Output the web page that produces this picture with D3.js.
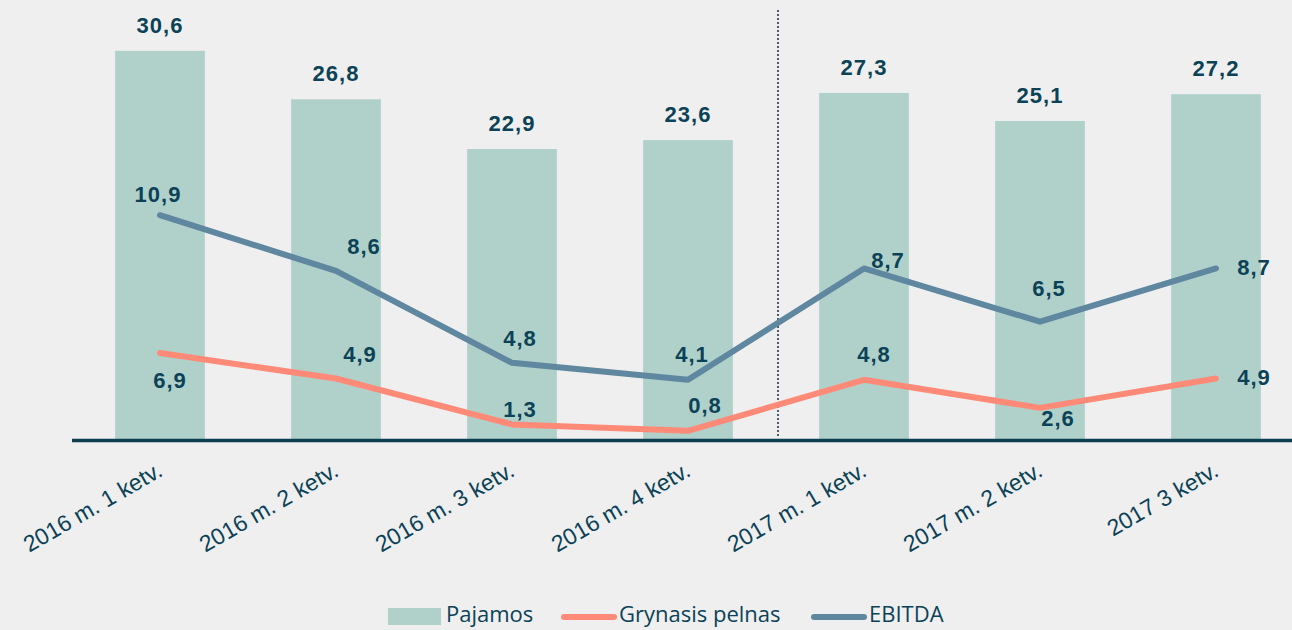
<!DOCTYPE html>
<html><head><meta charset="utf-8">
<script src="https://cdn.jsdelivr.net/npm/d3@7"></script>
<style>
html,body{margin:0;padding:0;background:#efefef;}
svg{display:block;}
</style></head>
<body>
<svg id="chart" width="1292" height="630"></svg>
<script>
const categories = ["2016 m. 1 ketv.","2016 m. 2 ketv.","2016 m. 3 ketv.","2016 m. 4 ketv.","2017 m. 1 ketv.","2017 m. 2 ketv.","2017 3 ketv."];
const pajamos = [30.6, 26.8, 22.9, 23.6, 27.3, 25.1, 27.2];
const grynasisPelnas = [6.9, 4.9, 1.3, 0.8, 4.8, 2.6, 4.9];
const ebitda = [10.9, 8.6, 4.8, 4.1, 8.7, 6.5, 8.7];
const seriesNames = ["Pajamos", "Grynasis pelnas", "EBITDA"];

// label placement (layout only)
const ebitdaLabelOffset = [[-2,-19],[28,-23],[8,-23],[4,-24],[24,-6],[9,-32],[38,1]];
const profitLabelOffset = [[10,29],[24,-22],[8,-13],[17,-24],[10,-24],[18,12],[38,1]];

const fmt = v => d3.format(".1f")(v).replace(".", ",");
const svg = d3.select("#chart");
const C = {bar:"#b0d1ca", profit:"#ff8a78", ebitda:"#5f87a0", text:"#0b4257", axis:"#0d3f52"};

const x = d3.scaleBand().domain(categories).range([72, 1304]).paddingInner(0.49).paddingOuter(0.245);
const y = d3.scaleLinear().domain([0, 35]).range([441, 441 - 12.75 * 35]);
const y2 = d3.scaleLinear().domain([0, 20]).range([479, 479 - 24.2 * 20]);
const cx = c => x(c) + x.bandwidth() / 2;

// bars
svg.append("g").selectAll("rect").data(pajamos).join("rect")
  .attr("x", (d,i) => x(categories[i]))
  .attr("y", d => y(d))
  .attr("width", x.bandwidth())
  .attr("height", d => y(0) - y(d))
  .attr("fill", C.bar);

// divider
const midX = (cx(categories[3]) + cx(categories[4])) / 2 + 2;
svg.append("line").attr("x1", midX).attr("x2", midX).attr("y1", 10).attr("y2", 437)
  .attr("stroke", "#4d5b6b").attr("stroke-width", 2).attr("stroke-dasharray", "2,2");

// axis
const xAxis = d3.axisBottom(x).tickSize(0).tickFormat("");
const ax = svg.append("g").attr("transform", "translate(0,440)").call(xAxis);
ax.select(".domain").remove();
svg.append("line").attr("x1", 72).attr("x2", 1292).attr("y1", 440.5).attr("y2", 440.5)
  .attr("stroke", C.axis).attr("stroke-width", 3.5);

// category labels
svg.append("g").selectAll("text").data(categories).join("text")
  .attr("transform", d => `translate(${cx(d) + 4},475) rotate(-30)`)
  .attr("text-anchor", "end")
  .attr("font-family", "Liberation Sans, Arial, sans-serif")
  .attr("font-size", 23)
  .attr("fill", C.text)
  .text(d => d);

// lines
const lineP = d3.line().x((d,i) => cx(categories[i])).y(d => y(d));
const lineE = d3.line().x((d,i) => cx(categories[i])).y(d => y2(d));
svg.append("path").datum(grynasisPelnas).attr("d", lineP).attr("fill", "none")
  .attr("stroke", C.profit).attr("stroke-width", 6).attr("stroke-linecap", "round").attr("stroke-linejoin", "round");
svg.append("path").datum(ebitda).attr("d", lineE).attr("fill", "none")
  .attr("stroke", C.ebitda).attr("stroke-width", 6).attr("stroke-linecap", "round").attr("stroke-linejoin", "round");

// value labels
const lbl = g => g.attr("font-family", "Liberation Sans, Arial, sans-serif")
  .attr("font-weight", "bold").attr("font-size", 22).attr("letter-spacing", 1).attr("fill", C.text)
  .attr("text-anchor", "middle").attr("dominant-baseline", "middle");

svg.append("g").selectAll("text").data(pajamos).join("text").call(lbl)
  .attr("x", (d,i) => cx(categories[i]))
  .attr("y", d => y(d) - 24)
  .text(fmt);
svg.append("g").selectAll("text").data(ebitda).join("text").call(lbl)
  .attr("x", (d,i) => cx(categories[i]) + ebitdaLabelOffset[i][0])
  .attr("y", (d,i) => y2(d) + ebitdaLabelOffset[i][1])
  .text(fmt);
svg.append("g").selectAll("text").data(grynasisPelnas).join("text").call(lbl)
  .attr("x", (d,i) => cx(categories[i]) + profitLabelOffset[i][0])
  .attr("y", (d,i) => y(d) + profitLabelOffset[i][1])
  .text(fmt);

// legend
const legend = [
  {name: seriesNames[0], type: "rect", color: C.bar, x: 388, tx: 446},
  {name: seriesNames[1], type: "line", color: C.profit, x: 561, tx: 619},
  {name: seriesNames[2], type: "line", color: C.ebitda, x: 811, tx: 869}
];
const lg = svg.append("g");
legend.forEach(l => {
  if (l.type === "rect") {
    lg.append("rect").attr("x", l.x).attr("y", 608).attr("width", 53).attr("height", 17).attr("fill", l.color);
  } else {
    lg.append("line").attr("x1", l.x + 3).attr("x2", l.x + 53).attr("y1", 617).attr("y2", 617)
      .attr("stroke", l.color).attr("stroke-width", 6).attr("stroke-linecap", "round");
  }
  lg.append("text").attr("x", l.tx).attr("y", 616).attr("dominant-baseline", "middle")
    .attr("font-family", "Open Sans, sans-serif").attr("font-size", 22).attr("fill", C.text).text(l.name);
});
</script>
</body></html>
